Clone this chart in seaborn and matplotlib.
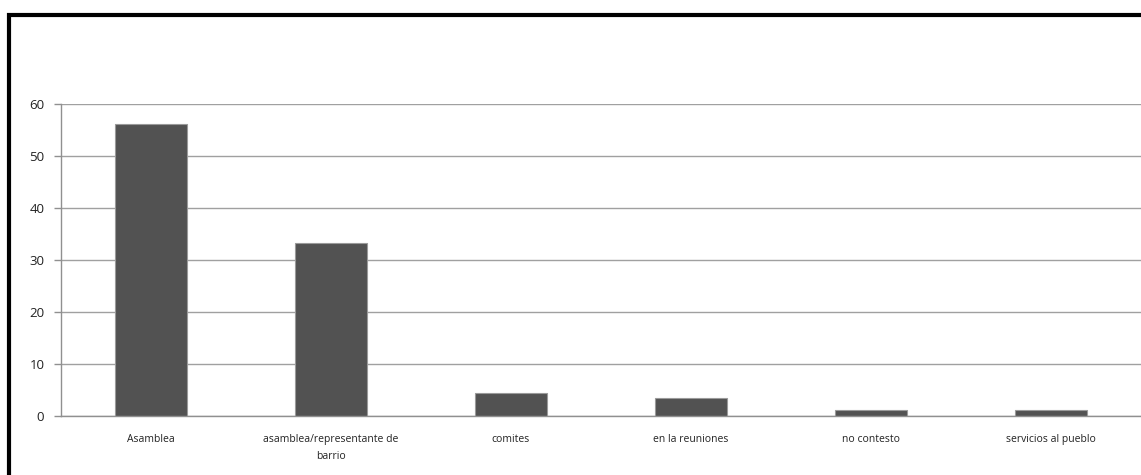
import numpy as np
import pandas as pd
import matplotlib.pyplot as plt
import matplotlib.patches as patches
import seaborn as sns

categories = ["Asamblea", "asamblea/representante de\nbarrio", "comites",
              "en la reuniones", "no contesto", "servicios al pueblo"]
values = [56.2, 33.3, 4.5, 3.4, 1.1, 1.1]
yticks = [0, 10, 20, 30, 40, 50, 60]

df = pd.DataFrame({"categoria": categories, "valor": values})

sns.set_style("white")
plt.rcParams["font.family"] = ["Open Sans", "DejaVu Sans"]

fig = plt.figure(figsize=(11.41, 4.75), dpi=100)
ax = fig.add_axes([61 / 1141, 1 - 416 / 475, 1 - 61 / 1141, (416 - 104) / 475])

sns.barplot(data=df, x="categoria", y="valor", color="#525252", width=0.4,
            edgecolor="#9a9a9a", linewidth=0.8, saturation=1, ax=ax)

ax.set_ylim(0, 60)
ax.set_xlim(-0.5, len(categories) - 0.5)
ax.set_yticks(yticks)
ax.set_yticklabels([str(t) for t in yticks], fontsize=9.5, color="#222222")
ax.set_xlabel("")
ax.set_ylabel("")
ax.tick_params(axis="x", which="major", length=0, pad=13, labelsize=7.5, labelcolor="#222222")
for lbl in ax.get_xticklabels():
    lbl.set_linespacing(1.7)
ax.set_xticks(np.arange(-0.5, len(categories)), minor=True)
ax.tick_params(axis="x", which="minor", length=5, color="#909090", width=1)
ax.tick_params(axis="y", length=5, color="#909090", width=1, pad=7, left=True)

ax.yaxis.grid(True, color="#a0a0a0", linewidth=1)
ax.set_axisbelow(True)
for side in ["top", "right"]:
    ax.spines[side].set_visible(False)
for side in ["left", "bottom"]:
    ax.spines[side].set_color("#909090")
    ax.spines[side].set_linewidth(1)

frame = patches.Rectangle((9 / 1141, -0.1), 1.2, 1.1 - 14.5 / 475,
                          transform=fig.transFigure, fill=False,
                          edgecolor="black", linewidth=3, clip_on=False)
fig.patches.append(frame)

fig.savefig("out.png", dpi=100)
